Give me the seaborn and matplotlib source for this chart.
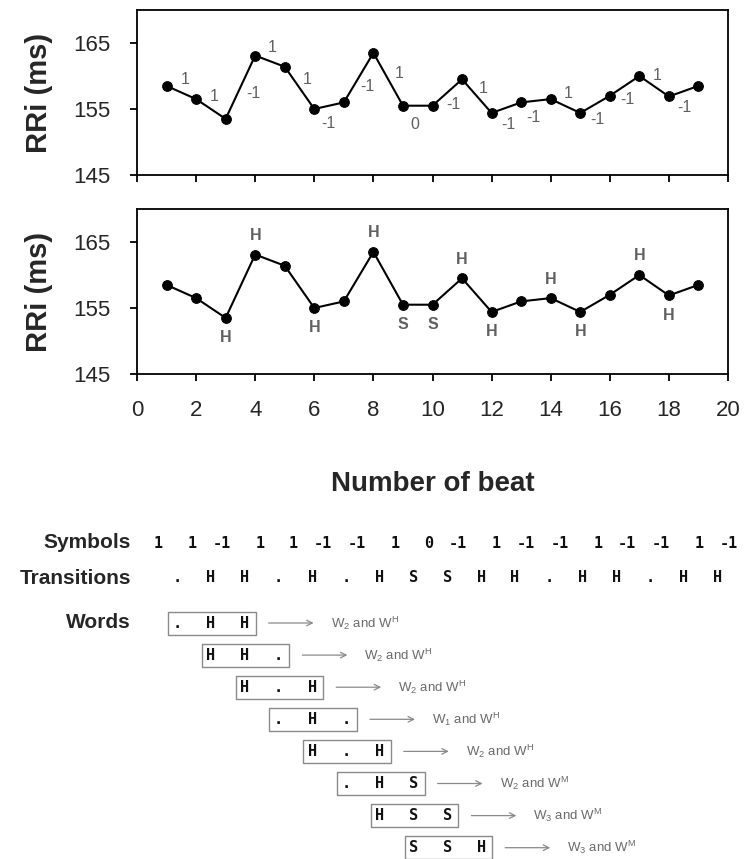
import matplotlib
matplotlib.use("Agg")
import matplotlib.pyplot as plt
import pandas as pd
import seaborn as sns
from matplotlib.patches import Rectangle

# ---- data -------------------------------------------------------------
beats = list(range(1, 20))
rri_ms = [158.5, 156.5, 153.5, 163.1, 161.4, 155.0, 156.0, 163.5, 155.5, 155.5,
          159.5, 154.4, 156.0, 156.5, 154.4, 157.0, 160.0, 156.9, 158.5]
symbols = ["1", "1", "-1", "1", "1", "-1", "-1", "1", "0", "-1",
           "1", "-1", "-1", "1", "-1", "-1", "1", "-1"]
transitions = [".", "H", "H", ".", "H", ".", "H", "S", "S",
               "H", "H", ".", "H", "H", ".", "H", "H"]
word_order = [2, 2, 2, 1, 2, 2, 3, 3]
word_type = ["H", "H", "H", "H", "H", "M", "M", "M"]
y_ticks = [145, 155, 165]
x_ticks = list(range(0, 21, 2))

# label offsets (pixels, right / up) of the symbol next to each segment
sym_offsets = [(4, 12.5), (3, 12), (13, -6), (2, 14), (8, 8), (-1, -18),
               (9, -9), (11, 6), (-3, -19), (6, -12), (6, 8), (2, -17),
               (-3, -17), (3, 13), (2, -15), (3, -14), (3, 11), (1, -16)]

df = pd.DataFrame({"beat": beats, "rri": rri_ms})

# ---- style ------------------------------------------------------------
sns.set_style("ticks")
plt.rcParams["font.family"] = ["Liberation Sans", "DejaVu Sans"]
plt.rcParams["mathtext.default"] = "regular"

W, H = 745, 859
fig = plt.figure(figsize=(W / 100, H / 100), dpi=100)

def px_axes(l, t, r, b):
    return fig.add_axes([l / W, 1 - b / H, (r - l) / W, (b - t) / H])

ax1 = px_axes(137, 10, 728, 175)
ax2 = px_axes(137, 209, 728, 374)

PT = 0.72  # points per pixel at 100 dpi
GRAY = "#606060"

for ax in (ax1, ax2):
    sns.lineplot(data=df, x="beat", y="rri", ax=ax, color="black", lw=1.5,
                 marker="o", markersize=7, markeredgecolor="black")
    ax.set_xlim(0, 20)
    ax.set_ylim(145, 170)
    ax.set_yticks(y_ticks)
    ax.set_xticks(x_ticks)
    ax.set_ylabel("RRi (ms)", fontsize=21, fontweight="bold")
    ax.tick_params(axis="both", direction="out", length=5, width=1.3,
                   labelsize=16, color="black", pad=14)
    for s in ax.spines.values():
        s.set_linewidth(1.3)
        s.set_color("black")
    ax.yaxis.set_label_coords(-0.142, 0.5)

ax1.set_xlabel("")
ax1.tick_params(axis="x", labelbottom=False)
ax2.set_xlabel("Number of beat", fontsize=20, fontweight="bold", labelpad=36)

# symbols along each segment of the upper trace
for k, sym in enumerate(symbols):
    xm = beats[k] + 0.5
    ym = (rri_ms[k] + rri_ms[k + 1]) / 2
    dx, dy = sym_offsets[k]
    ax1.annotate(sym, (xm, ym), xytext=(dx * PT, dy * PT),
                 textcoords="offset points", ha="center", va="center",
                 fontsize=11.5, color=GRAY)

# transition letters at peaks (above) and troughs (below)
for j, tr in enumerate(transitions):
    i = j + 1
    if tr == ".":
        continue
    is_peak = rri_ms[i] > rri_ms[i - 1] and rri_ms[i] > rri_ms[i + 1]
    off = 19 if is_peak else -20
    ax2.annotate(tr, (beats[i], rri_ms[i]), xytext=(0, off * PT),
                 textcoords="offset points", ha="center", va="center",
                 fontsize=11.5, color=GRAY, fontweight="bold")

# ---- symbolic coding panel --------------------------------------------
ax3 = fig.add_axes([0, 0, 1, 1], zorder=-1)
ax3.set_xlim(0, W)
ax3.set_ylim(H, 0)
ax3.axis("off")

MONO = dict(family="DejaVu Sans Mono", fontweight="bold", fontsize=11,
            color="#111111")
STEP = 33.8
y_sym, y_tr, y_words = 543, 578, 623
row_gap = 32.1

for label, y in (("Symbols", y_sym), ("Transitions", y_tr), ("Words", y_words)):
    ax3.text(131, y, label, ha="right", va="center", fontsize=15,
             fontweight="bold")

for i, s in enumerate(symbols):
    ax3.text(163 + i * STEP, y_sym, s, ha="right", va="center", **MONO)

tr_x = [177 + j * STEP for j in range(len(transitions))]
for x, t in zip(tr_x, transitions):
    ax3.text(x, y_tr, t, ha="center", va="center", **MONO)

for k in range(len(word_order)):
    y = y_words + k * row_gap
    x0 = tr_x[k] - 9
    x1 = tr_x[k + 2] + 11
    ax3.add_patch(Rectangle((x0, y - 11.5), x1 - x0, 23, fill=False,
                            edgecolor="#8a8a8a", lw=1.0))
    for m in range(3):
        ax3.text(tr_x[k + m], y, transitions[k + m], ha="center",
                 va="center", **MONO)
    ax3.annotate("", xy=(x1 + 58, y), xytext=(x1 + 13, y),
                 arrowprops=dict(arrowstyle="->", color="#8a8a8a", lw=0.9,
                                 shrinkA=0, shrinkB=0))
    ax3.text(x1 + 75, y,
             r"$W_{%d}$ and $W^{%s}$" % (word_order[k], word_type[k]),
             ha="left", va="center", fontsize=9.5, color="#6a6a6a")

fig.savefig("out.png", dpi=100)
